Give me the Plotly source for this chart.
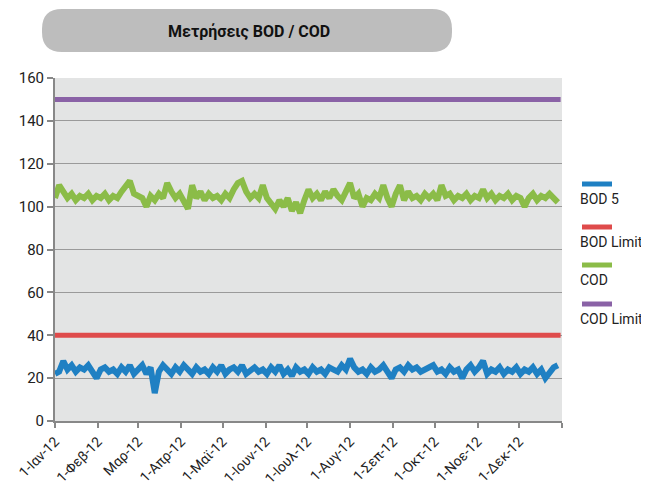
import pandas as pd
import plotly.graph_objects as go

# measurements every 3 days during 2012
dates = pd.date_range("2012-01-01", periods=122, freq="3D")

bod5 = [22, 23, 28, 24, 26, 23, 25, 24, 26, 23,
        20, 24, 25, 23, 24, 22, 25, 23, 26, 22,
        24, 26, 22, 25, 13, 23, 26, 24, 22, 25,
        23, 26, 24, 22, 25, 23, 24, 22, 25, 23,
        26, 22, 24, 25, 23, 26, 22, 24, 25, 23,
        24, 22, 25, 23, 26, 22, 24, 21, 25, 23,
        24, 22, 25, 23, 24, 22, 25, 24, 23, 26,
        24, 29, 25, 23, 24, 22, 25, 23, 24, 26,
        23, 20, 24, 25, 23, 26, 24, 25, 23, 24,
        25, 26, 23, 24, 22, 25, 23, 24, 20, 24,
        26, 23, 25, 28, 22, 24, 23, 25, 22, 24,
        23, 25, 22, 24, 23, 25, 22, 24, 20, 23, 25, 26]

cod = [104, 110, 107, 104, 106, 103, 105, 104, 106, 103,
       105, 104, 106, 103, 105, 104, 107, 110, 112, 106,
       105, 104, 100, 105, 103, 106, 104, 111, 107, 104,
       106, 103, 99, 110, 104, 107, 103, 106, 104, 105,
       103, 106, 104, 108, 111, 112, 107, 104, 106, 104,
       110, 104, 101, 99, 103, 100, 104, 98, 102, 97,
       103, 108, 104, 106, 103, 107, 104, 108, 105, 103,
       107, 111, 104, 106, 100, 104, 103, 106, 104, 110,
       104, 100, 106, 110, 103, 107, 104, 105, 103, 106,
       104, 106, 103, 110, 105, 106, 103, 105, 104, 106,
       103, 105, 104, 108, 104, 106, 103, 105, 104, 106,
       103, 105, 104, 100, 104, 106, 103, 105, 104, 106, 104, 102]

bod_limit = 40
cod_limit = 150
limit_x = ["2012-01-01", "2012-12-31"]

tick_dates = ["2012-01-01", "2012-02-01", "2012-03-01", "2012-04-01", "2012-05-01", "2012-06-01",
              "2012-07-01", "2012-08-01", "2012-09-01", "2012-10-01", "2012-11-01", "2012-12-01",
              "2013-01-01"]
tick_labels = ["1-Ιαν-12", "1-Φεβ-12", "Μαρ-12", "1-Απρ-12", "1-Μαϊ-12", "1-Ιουν-12",
               "1-Ιουλ-12", "1-Αυγ-12", "1-Σεπ-12", "1-Οκτ-12", "1-Νοε-12", "1-Δεκ-12", ""]

names = ["BOD 5", "BOD Limit", "COD", "COD Limit"]
colors = ["#1f80c3", "#df4b4b", "#8bbc48", "#8a62a6"]

fig = go.Figure()
fig.add_trace(go.Scatter(x=limit_x, y=[cod_limit, cod_limit], mode="lines",
                         line=dict(width=5, color=colors[3]), name=names[3]))
fig.add_trace(go.Scatter(x=limit_x, y=[bod_limit, bod_limit], mode="lines",
                         line=dict(width=5, color=colors[1]), name=names[1]))
fig.add_trace(go.Scatter(x=dates, y=cod, mode="lines",
                         line=dict(width=6, color=colors[2]), name=names[2]))
fig.add_trace(go.Scatter(x=dates, y=bod5, mode="lines",
                         line=dict(width=6, color=colors[0]), name=names[0]))

# page has an 8px body margin; plot area on page: x 55..562, y 78..421
W, H = 507, 343
def px(x):
    return (x - 55) / W
def py(y):
    return (421 - y) / H

# rounded title box
x0, x1, y0, y1 = px(42), px(452), py(52), py(9)
rx, ry = 20 / W, 20 / H
path = (f"M {x0+rx},{y1} L {x1-rx},{y1} Q {x1},{y1} {x1},{y1-ry} L {x1},{y0+ry} "
        f"Q {x1},{y0} {x1-rx},{y0} L {x0+rx},{y0} Q {x0},{y0} {x0},{y0+ry} "
        f"L {x0},{y1-ry} Q {x0},{y1} {x0+rx},{y1} Z")
fig.add_shape(type="path", path=path, xref="paper", yref="paper",
              fillcolor="#bdbdbd", line=dict(width=0), layer="below")
fig.add_annotation(text="<b>Μετρήσεις BOD / COD</b>", x=px(249), y=py(31), xref="paper", yref="paper",
                   xanchor="center", yanchor="middle", showarrow=False,
                   font=dict(size=16, color="#111", family="Roboto"))

# custom legend: line sample above label
leg_y = [184, 227, 265, 304]
for n, c, ly in zip(names, colors, leg_y):
    fig.add_shape(type="line", xref="paper", yref="paper", x0=px(582), x1=px(612),
                  y0=py(ly), y1=py(ly), line=dict(color=c, width=5))
    fig.add_annotation(text=n, x=px(578), y=py(ly + 15), xref="paper", yref="paper",
                       xanchor="left", yanchor="middle", showarrow=False,
                       font=dict(size=14, color="#222", family="Roboto"))

fig.update_xaxes(range=["2012-01-01", "2013-01-01"], tickvals=tick_dates, ticktext=tick_labels,
                 tickangle=-45, ticks="outside", ticklen=5, tickcolor="#888", tickwidth=2,
                 showline=True, linecolor="#888", linewidth=2, showgrid=False, automargin=False,
                 tickfont=dict(size=14, color="#222", family="Roboto"))
fig.update_yaxes(range=[0, 160], dtick=20, ticks="outside", ticklen=6, tickcolor="#888", tickwidth=2,
                 showline=True, linecolor="#888", linewidth=2, gridcolor="#9a9a9a", gridwidth=1,
                 zeroline=False, automargin=False, tickfont=dict(size=15, color="#222", family="Roboto"))
fig.update_layout(width=641, height=480, showlegend=False,
                  margin=dict(l=47, r=87, t=70, b=67),
                  plot_bgcolor="#e3e4e4", paper_bgcolor="white")

fig.write_html("out.html")
